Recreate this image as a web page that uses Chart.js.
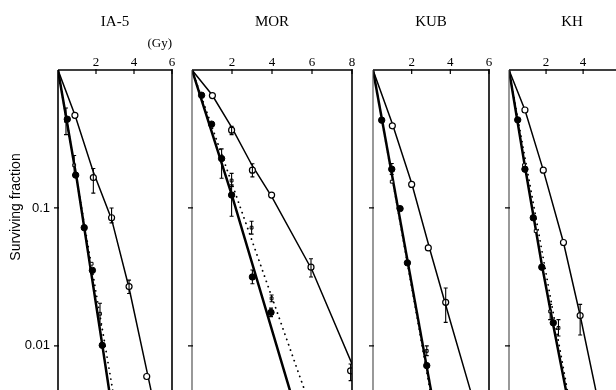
<!DOCTYPE html>
<html>
<head>
<meta charset="utf-8">
<script src="https://cdn.jsdelivr.net/npm/chart.js@4.4.1/dist/chart.umd.min.js"></script>
<style>
  html, body { margin: 0; padding: 0; background: #fff; }
  body { width: 616px; height: 390px; overflow: hidden; position: relative; }
  canvas { position: absolute; top: 0; }
</style>
</head>
<body>
<script>
// panel titles and axes
const panelNames = ["IA-5", "MOR", "KUB", "KH"];
const doseMax = [6, 8, 6, 6.8];
const doseTicks = [[2, 4, 6], [2, 4, 6, 8], [2, 4, 6], [2, 4, 6]];
const sfTicks = [0.01, 0.1, 1];
const sfLabels = { 0.1: "0.1", 0.01: "0.01" };
const sfMin = 0.004;
const sfMax = 1;

// rows: dose (Gy), surviving fraction, error low, error high
const ia5Filled = [[0.49, 0.44], [0.93, 0.173], [1.38, 0.072], [1.81, 0.0353], [2.33, 0.0101]];
const ia5Open = [[0.89, 0.469], [1.86, 0.166, 0.128, 0.193], [2.82, 0.0849, 0.078, 0.1], [3.74, 0.0269, 0.024, 0.03], [4.67, 0.006]];
const ia5Bars = [[0.42, 0.427, 0.34, 0.53], [0.85, 0.204, 0.173, 0.24], [1.77, 0.0394], [2.21, 0.0171, 0.0141, 0.0204]];
const ia5FitSteep = [[0, 1], [1.0, 0.158], [2.33, 0.0102], [2.8, 0.0038]];
const ia5FitShallow = [[0, 1], [0.9, 0.468], [1.86, 0.182], [2.82, 0.083], [3.74, 0.0263], [4.84, 0.00518], [5.1, 0.0035]];
const ia5FitDotted = [[0, 1], [2.95, 0.0042]];

const morFilled = [[0.48, 0.656], [0.98, 0.405], [1.48, 0.228, 0.164, 0.268], [1.98, 0.124, 0.087, 0.147], [3.02, 0.0316, 0.0282, 0.0355], [3.95, 0.0175, 0.0163, 0.0188]];
const morOpen = [[1.02, 0.652], [1.98, 0.366, 0.34, 0.39], [3.02, 0.188, 0.168, 0.209], [3.98, 0.124], [5.95, 0.0372, 0.0316, 0.0428], [7.93, 0.0066, 0.0056, 0.0074]];
const morBars = [[1.98, 0.158, 0.143, 0.178], [2.98, 0.072, 0.0646, 0.08], [3.98, 0.0221, 0.0209, 0.0234]];
const morFitSteep = [[0, 1], [2, 0.123], [5.0, 0.00424]];
const morFitShallow = [[0, 1], [1, 0.661], [2, 0.38], [3, 0.204], [4, 0.12], [6, 0.0355], [8, 0.00741]];
const morFitDotted = [[0, 1], [5.7, 0.00447]];

const kubFilled = [[0.45, 0.433], [0.97, 0.191, 0.175, 0.21], [1.4, 0.0989], [1.78, 0.04], [2.78, 0.0072]];
const kubOpen = [[1.0, 0.394], [2.0, 0.148], [2.86, 0.0513], [3.76, 0.0207, 0.0148, 0.0263]];
const kubBars = [[0.97, 0.155], [2.78, 0.0092, 0.0085, 0.01]];
const kubFitSteep = [[0, 1], [3.1, 0.00398]];
const kubFitShallow = [[0, 1], [1, 0.407], [2, 0.151], [3, 0.0468], [4, 0.0151], [5.2, 0.00398]];
const kubFitDotted = [[0, 1], [3.05, 0.004]];

const khFilled = [[0.47, 0.435], [0.86, 0.191], [1.31, 0.0849], [1.77, 0.0372], [2.39, 0.0147]];
const khOpen = [[0.86, 0.513], [1.85, 0.188], [2.94, 0.0562], [3.84, 0.0166, 0.012, 0.02]];
const khBars = [[0.81, 0.204], [1.44, 0.068], [2.22, 0.0178, 0.0155, 0.02], [2.67, 0.0135, 0.0118, 0.0155]];
const khFitSteep = [[0, 1], [0.86, 0.1995], [1.77, 0.0389], [2.39, 0.0141], [3.1, 0.00457]];
const khFitShallow = [[0, 1], [0.86, 0.513], [1.85, 0.188], [2.94, 0.0562], [3.84, 0.0166], [4.63, 0.00518], [4.8, 0.00398]];
const khFitDotted = [[0, 1], [3.2, 0.00437]];

const series = [
  [ia5Filled, ia5Open, ia5Bars, ia5FitSteep, ia5FitShallow, ia5FitDotted],
  [morFilled, morOpen, morBars, morFitSteep, morFitShallow, morFitDotted],
  [kubFilled, kubOpen, kubBars, kubFitSteep, kubFitShallow, kubFitDotted],
  [khFilled, khOpen, khBars, khFitSteep, khFitShallow, khFitDotted]
];

// page layout of each plot frame
const boxes = [
  { left: 58, right: 172, yw: 58 },
  { left: 192, right: 352, yw: 12 },
  { left: 373, right: 489, yw: 12 },
  { left: 509, right: 635, yw: 12 }
];
const chartBottom = 406;
const padRight = 8;

const pts = rows => rows.map(r => ({ x: r[0], y: r[1] }));
const errs = (rows, k) => rows.map(r => (r[k] == null ? null : r[k]));

const errorBars = {
  id: "errorBars",
  afterDatasetsDraw(chart) {
    const { ctx, chartArea: a, scales: { x, y } } = chart;
    ctx.save();
    ctx.beginPath();
    ctx.rect(a.left, a.top, a.right - a.left, a.bottom - a.top);
    ctx.clip();
    ctx.strokeStyle = "#000";
    ctx.lineWidth = 1.1;
    chart.data.datasets.forEach(ds => {
      if (!ds.errLo) return;
      ds.data.forEach((p, i) => {
        const lo = ds.errLo[i], hi = ds.errHi[i];
        if (lo == null || hi == null) return;
        const px = x.getPixelForValue(p.x);
        const y1 = y.getPixelForValue(lo), y2 = y.getPixelForValue(hi);
        ctx.beginPath();
        ctx.moveTo(px, y1); ctx.lineTo(px, y2);
        ctx.moveTo(px - 2, y1); ctx.lineTo(px + 2, y1);
        ctx.moveTo(px - 2, y2); ctx.lineTo(px + 2, y2);
        ctx.stroke();
      });
    });
    ctx.restore();
  }
};

const frame = {
  id: "frame",
  afterDraw(chart, args, opts) {
    const { ctx, chartArea: a, scales: { x, y } } = chart;
    ctx.save();
    ctx.strokeStyle = "#000";
    ctx.lineWidth = 1.6;
    ctx.beginPath();
    ctx.moveTo(a.left, a.top);
    ctx.lineTo(a.right, a.top);
    ctx.lineTo(a.right, a.bottom);
    ctx.stroke();
    ctx.strokeStyle = opts.leftColor;
    ctx.lineWidth = opts.leftWidth;
    ctx.beginPath();
    ctx.moveTo(a.left, a.top);
    ctx.lineTo(a.left, a.bottom);
    ctx.stroke();
    ctx.strokeStyle = "#000";
    ctx.lineWidth = 1.2;
    ctx.beginPath();
    x.ticks.forEach(t => {
      const px = x.getPixelForValue(t.value);
      ctx.moveTo(px, a.top - 1);
      ctx.lineTo(px, a.top + 4);
    });
    y.ticks.forEach(t => {
      if (t.value >= 1) return;
      const py = y.getPixelForValue(t.value);
      ctx.moveTo(a.left - 4, py);
      ctx.lineTo(a.left + 1, py);
    });
    ctx.stroke();
    if (opts.yTitle) {
      ctx.translate(16, 207);
      ctx.rotate(-Math.PI / 2);
      ctx.fillStyle = "#000";
      ctx.font = "14px 'Liberation Sans', Arial, sans-serif";
      ctx.textAlign = "center";
      ctx.textBaseline = "middle";
      ctx.fillText(opts.yTitle, 0, 0);
    }
    ctx.restore();
  }
};

panelNames.forEach((name, i) => {
  const b = boxes[i];
  const cv = document.createElement("canvas");
  cv.width = b.yw + (b.right - b.left) + padRight;
  cv.height = chartBottom;
  cv.style.left = (b.left - b.yw) + "px";
  document.body.appendChild(cv);

  const [filled, open, bars, fitSteep, fitShallow, fitDotted] = series[i];
  const lineBase = { showLine: true, pointRadius: 0, borderColor: "#000", order: 1, tension: 0 };

  new Chart(cv, {
    type: "scatter",
    data: {
      datasets: [
        { data: pts(filled), errLo: errs(filled, 2), errHi: errs(filled, 3), pointRadius: 3.2,
          pointBackgroundColor: "#000", pointBorderColor: "#000", pointBorderWidth: 1, order: 0 },
        { data: pts(open), errLo: errs(open, 2), errHi: errs(open, 3), pointRadius: 3,
          pointBackgroundColor: "#fff", pointBorderColor: "#000", pointBorderWidth: 1.2, order: 0 },
        { data: pts(bars), errLo: errs(bars, 2), errHi: errs(bars, 3), pointStyle: "rect", pointRadius: 2,
          pointBackgroundColor: "#fff", pointBorderColor: "#000", pointBorderWidth: 1, order: 0 },
        { ...lineBase, data: pts(fitSteep), borderWidth: 2.5 },
        { ...lineBase, data: pts(fitShallow), borderWidth: 1.5 },
        { ...lineBase, data: pts(fitDotted), borderWidth: 1.8, borderDash: [0.1, 5.5], borderCapStyle: "round" }
      ]
    },
    options: {
      responsive: false,
      devicePixelRatio: 1,
      animation: false,
      layout: { padding: { left: 0, top: 0, right: padRight, bottom: 0 } },
      plugins: {
        legend: { display: false },
        tooltip: { enabled: false },
        title: {
          display: true, text: name, fullSize: false, color: "#000",
          font: { family: "'Liberation Serif', 'Times New Roman', serif", size: 15, weight: "normal" },
          padding: { top: 13, bottom: 0 }
        },
        frame: { leftColor: i === 0 ? "#000" : "#444", leftWidth: i === 0 ? 1.6 : 1.1, yTitle: i === 0 ? "Surviving fraction" : null }
      },
      scales: {
        x: {
          type: "linear", position: "top", min: 0, max: doseMax[i],
          grid: { display: false, drawTicks: false },
          border: { display: false },
          afterBuildTicks: s => { s.ticks = doseTicks[i].map(v => ({ value: v })); },
          afterFit: s => { s.height = 70 - 31; s.paddingLeft = 0; s.paddingRight = 0; },
          ticks: {
            padding: 0, color: "#000", maxRotation: 0, autoSkip: false,
            font: { family: "'Liberation Serif', 'Times New Roman', serif", size: 13 },
            callback: v => String(v)
          },
          title: {
            display: i === 0, text: "(Gy)", align: "end", color: "#000",
            font: { family: "'Liberation Serif', 'Times New Roman', serif", size: 13 },
            padding: { top: 5, bottom: 0 }
          }
        },
        y: {
          type: "logarithmic", position: "left", min: sfMin, max: sfMax,
          grid: { display: false, drawTicks: false },
          border: { display: false },
          afterBuildTicks: s => { s.ticks = sfTicks.map(v => ({ value: v })); },
          afterFit: s => { s.width = b.yw; s.paddingTop = 0; s.paddingBottom = 0; },
          ticks: {
            display: i === 0, padding: 8, color: "#000", autoSkip: false,
            font: { family: "'Liberation Sans', Arial, sans-serif", size: 13 },
            callback: v => sfLabels[v] || ""
          }
        }
      }
    },
    plugins: [errorBars, frame]
  });
});
</script>
</body>
</html>
